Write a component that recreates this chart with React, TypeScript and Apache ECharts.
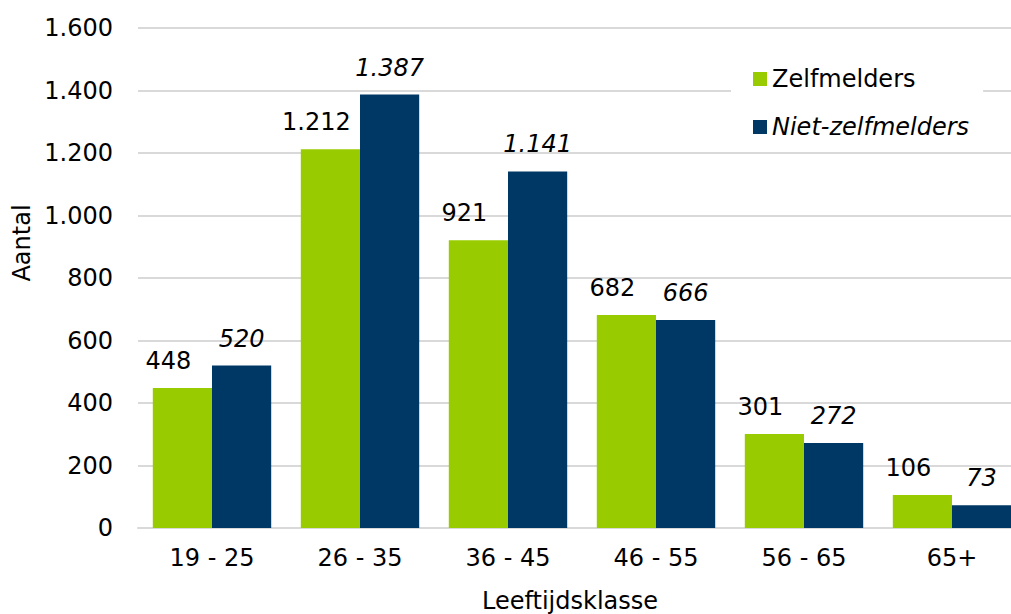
import React, { useEffect, useRef } from "react";
import * as echarts from "echarts";

const categories = ["19 - 25", "26 - 35", "36 - 45", "46 - 55", "56 - 65", "65+"];
const zelfmelders = [448, 1212, 921, 682, 301, 106];
const nietZelfmelders = [520, 1387, 1141, 666, 272, 73];
const seriesNames = ["Zelfmelders", "Niet-zelfmelders"];

const FONT = "DejaVu Sans, Verdana, sans-serif";
const FS = 24;
const fmt = (v: number) => String(v).replace(/\B(?=(\d{3})+(?!\d))/g, ".");

export default function App() {
  const ref = useRef<HTMLDivElement>(null);
  useEffect(() => {
    if (!ref.current) return;
    const chart = echarts.init(ref.current, undefined, { renderer: "svg" });
    chart.setOption({
      animation: false,
      backgroundColor: "#ffffff",
      textStyle: { fontFamily: FONT },
      grid: { left: 138, top: 28, width: 888, bottom: 86 },
      legend: {
        data: seriesNames,
        orient: "vertical",
        left: 731,
        top: 57,
        backgroundColor: "#ffffff",
        padding: [10, 14, 10, 22],
        itemWidth: 14,
        itemHeight: 14,
        itemGap: 24,
        icon: "rect",
        textStyle: {
          fontFamily: FONT,
          fontSize: FS,
          color: "#000",
          rich: { i: { fontStyle: "italic", fontSize: FS, fontFamily: FONT, color: "#000" } },
        },
        formatter: (n: string) => (n === "Niet-zelfmelders" ? `{i|${n}}` : n),
      },
      xAxis: {
        type: "category",
        data: categories,
        axisTick: { show: false },
        axisLine: { lineStyle: { color: "#d9d9d9", width: 2 } },
        axisLabel: { color: "#000", fontSize: FS, fontFamily: FONT, margin: 18 },
      },
      yAxis: {
        type: "value",
        min: 0,
        max: 1600,
        interval: 200,
        axisLine: { show: false },
        axisTick: { show: false },
        splitLine: { lineStyle: { color: "#d9d9d9", width: 2 } },
        axisLabel: { color: "#000", fontSize: FS, fontFamily: FONT, margin: 25, formatter: fmt },
      },
      series: [
        {
          name: seriesNames[0],
          type: "bar",
          data: zelfmelders,
          barGap: "0%",
          barCategoryGap: "20%",
          itemStyle: { color: "#99cc00" },
          label: {
            show: true,
            position: "top",
            distance: 15,
            offset: [-14, 0],
            color: "#000",
            fontSize: FS,
            fontFamily: FONT,
            formatter: (p: any) => fmt(p.value),
          },
        },
        {
          name: seriesNames[1],
          type: "bar",
          data: nietZelfmelders,
          barGap: "0%",
          barCategoryGap: "20%",
          itemStyle: { color: "#003865" },
          label: {
            show: true,
            position: "top",
            distance: 15,
            color: "#000",
            fontSize: FS,
            fontStyle: "italic",
            fontFamily: FONT,
            formatter: (p: any) => fmt(p.value),
          },
        },
      ],
      graphic: [
        {
          type: "text",
          x: 22,
          y: 243,
          rotation: Math.PI / 2,
          style: {
            text: "Aantal",
            fontSize: FS,
            fontFamily: FONT,
            fill: "#000",
            align: "center",
            verticalAlign: "middle",
          },
        },
        {
          type: "text",
          x: 570,
          y: 601,
          style: {
            text: "Leeftijdsklasse",
            fontSize: FS,
            fontFamily: FONT,
            fill: "#000",
            align: "center",
            verticalAlign: "middle",
          },
        },
      ],
    });
    return () => chart.dispose();
  }, []);
  return (
    <div style={{ width: 1011, height: 614, position: "absolute", left: 0, top: 0, overflow: "hidden" }}>
      <div ref={ref} style={{ width: 1026, height: 614, position: "absolute", left: 0, top: 0 }} />
    </div>
  );
}
